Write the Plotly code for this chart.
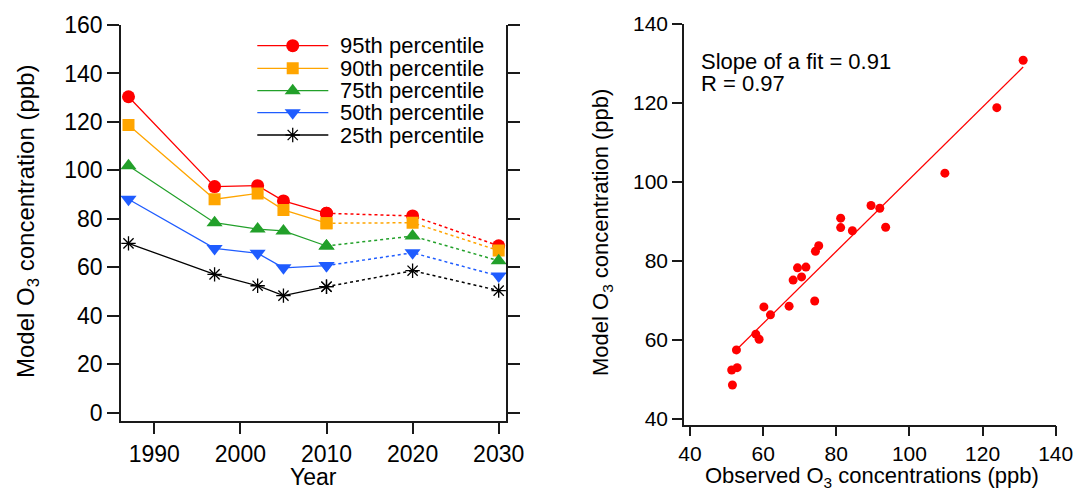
import plotly.graph_objects as go

# ---------------- data ----------------
years = [1987, 1997, 2002, 2005, 2010, 2020, 2030]
n_solid = 5  # first 5 points (through 2010) solid, remainder dotted

series_names = ["95th percentile", "90th percentile", "75th percentile",
                "50th percentile", "25th percentile"]
p95 = [130.4, 93.3, 93.7, 87.4, 82.3, 81.2, 68.9]
p90 = [118.7, 88.1, 90.5, 83.7, 78.2, 78.4, 66.9]
p75 = [101.9, 78.4, 75.8, 75.0, 68.8, 72.9, 62.7]
p50 = [88.1, 67.8, 65.8, 59.8, 60.7, 66.0, 56.4]
p25 = [69.9, 57.1, 52.4, 48.3, 52.0, 58.6, 50.4]
series_values = [p95, p90, p75, p50, p25]

left_yticks = [0, 20, 40, 60, 80, 100, 120, 140, 160]
left_xticks = [1990, 2000, 2010, 2020, 2030]

obs_x = [131.1, 123.9, 109.7, 89.5, 91.9, 93.5, 81.2, 81.2, 84.4, 75.2,
         74.3, 69.4, 71.7, 70.5, 68.2, 74.1, 67.1, 60.2, 62.0, 58.0,
         58.9, 52.7, 52.9, 51.4, 51.6]
model_y = [130.8, 118.8, 102.2, 94.0, 93.3, 88.5, 90.8, 88.4, 87.6, 83.8,
           82.4, 78.2, 78.4, 75.9, 75.1, 69.8, 68.5, 68.3, 66.3, 61.4,
           60.1, 57.4, 52.9, 52.3, 48.5]
fit_x = [51.8, 131.1]
fit_y = [56.6, 129.1]
fit_text = ["Slope of a fit = 0.91", "R = 0.97"]

right_ticks = [40, 60, 80, 100, 120, 140]

# ---------------- styles ----------------
colors = ["#ff0000", "#ffa500", "#22a02a", "#1f5cff", "#000000"]
symbols = ["circle", "square", "triangle-up", "triangle-down", "asterisk-open"]
msizes = [13, 12, 14, 14, 12]
FONT = "Liberation Sans, Arial, Helvetica, sans-serif"
AX = "#1a1a1a"

W, H = 1088, 488
def fx(px):
    return px / W
def fy(py):
    return 1 - py / H

fig = go.Figure()

for name, vals, c, s, ms in zip(series_names, series_values, colors, symbols, msizes):
    mk = dict(symbol=s, size=ms, color=c, line=dict(width=1.3 if "open" in s else 0, color=c))
    fig.add_trace(go.Scatter(x=years[:n_solid], y=vals[:n_solid], mode="lines+markers",
                             line=dict(color=c, width=1.3), marker=mk, name=name,
                             showlegend=False, xaxis="x", yaxis="y"))
    fig.add_trace(go.Scatter(x=years[n_solid - 1:], y=vals[n_solid - 1:], mode="lines+markers",
                             line=dict(color=c, width=1.5, dash="dot"), marker=mk,
                             showlegend=False, xaxis="x", yaxis="y"))

# custom legend (drawn on an overlay axis spanning the left panel, range 0..1)
leg_rows = [0.9477, 0.8906, 0.8340, 0.7784, 0.7220]
leg_x0, leg_xm, leg_x1, leg_tx = 0.354, 0.446, 0.5385, 0.5636
for name, c, s, ms, yy in zip(series_names, colors, symbols, msizes, leg_rows):
    mk = dict(symbol=s, size=ms, color=c, line=dict(width=1.3 if "open" in s else 0, color=c))
    fig.add_trace(go.Scatter(x=[leg_x0, leg_x1], y=[yy, yy], mode="lines",
                             line=dict(color=c, width=1.3), showlegend=False,
                             hoverinfo="skip", xaxis="x3", yaxis="y3"))
    fig.add_trace(go.Scatter(x=[leg_xm], y=[yy], mode="markers", marker=mk,
                             showlegend=False, hoverinfo="skip", xaxis="x3", yaxis="y3"))
    fig.add_annotation(x=leg_tx, y=yy, xref="x3", yref="y3", text=name, showarrow=False,
                       xanchor="left", yanchor="middle", font=dict(size=22, color="black", family=FONT))

# right panel
fig.add_trace(go.Scatter(x=fit_x, y=fit_y, mode="lines", line=dict(color="#ff0000", width=1.3),
                         showlegend=False, xaxis="x2", yaxis="y2"))
fig.add_trace(go.Scatter(x=obs_x, y=model_y, mode="markers",
                         marker=dict(color="#ff0000", size=9, line=dict(width=0)),
                         showlegend=False, xaxis="x2", yaxis="y2"))

fig.add_annotation(x=fx(699), y=fy(61), xref="paper", yref="paper", text=fit_text[0],
                   showarrow=False, xanchor="left", yanchor="middle",
                   font=dict(size=22, color="black", family=FONT))
fig.add_annotation(x=fx(699), y=fy(84), xref="paper", yref="paper", text=fit_text[1],
                   showarrow=False, xanchor="left", yanchor="middle",
                   font=dict(size=22, color="black", family=FONT))

# axis titles
fig.add_annotation(x=fx(28), y=fy(221), xref="paper", yref="paper",
                   text="Model O<sub>3</sub> concentration (ppb)", textangle=-90,
                   xanchor="center", yanchor="middle",
                   showarrow=False, font=dict(size=24, color="black", family=FONT))
fig.add_annotation(x=fx(313), y=fy(477), xref="paper", yref="paper", text="Year",
                   xanchor="center", yanchor="middle",
                   showarrow=False, font=dict(size=23, color="black", family=FONT))
fig.add_annotation(x=fx(602), y=fy(233), xref="paper", yref="paper",
                   text="Model O<sub>3</sub> concentration (ppb)", textangle=-90,
                   xanchor="center", yanchor="middle",
                   showarrow=False, font=dict(size=22, color="black", family=FONT))
fig.add_annotation(x=fx(872), y=fy(477), xref="paper", yref="paper",
                   text="Observed O<sub>3</sub> concentrations (ppb)",
                   xanchor="center", yanchor="middle",
                   showarrow=False, font=dict(size=22, color="black", family=FONT))

common = dict(showgrid=False, zeroline=False, showline=True, linecolor=AX, linewidth=1.5,
              ticks="outside", tickcolor=AX, tickwidth=1.5, automargin=False,
              fixedrange=True)

fig.update_layout(
    width=W, height=H,
    margin=dict(l=0, r=0, t=0, b=0),
    paper_bgcolor="white", plot_bgcolor="white",
    font=dict(family=FONT, color="black"),
    showlegend=False,
    xaxis=dict(domain=[fx(121), fx(506)], range=[1986.13, 2030.85], tickvals=left_xticks,
               ticklen=12, tickfont=dict(size=23), anchor="y", **common),
    yaxis=dict(domain=[fy(420.7), fy(25)], range=[-3.3, 160], tickvals=left_yticks,
               ticklen=12, tickfont=dict(size=23), mirror="ticks", anchor="x", **common),
    xaxis2=dict(domain=[fx(684), fx(1055.7)], range=[38.36, 140], tickvals=right_ticks,
                ticklen=10, tickfont=dict(size=21), anchor="y2", **common),
    yaxis2=dict(domain=[fy(424.5), fy(24)], range=[38.5, 140], tickvals=right_ticks,
                ticklen=10, tickfont=dict(size=21), anchor="x2", **common),
    xaxis3=dict(domain=[fx(121), fx(506)], range=[0, 1], visible=False, anchor="y3",
                overlaying="x", fixedrange=True),
    yaxis3=dict(domain=[fy(420.7), fy(25)], range=[0, 1], visible=False, anchor="x3",
                overlaying="y", fixedrange=True),
)

fig.write_html("out.html", config={"displayModeBar": False},
               post_script="document.body.style.margin='0';document.body.style.overflow='hidden';")
